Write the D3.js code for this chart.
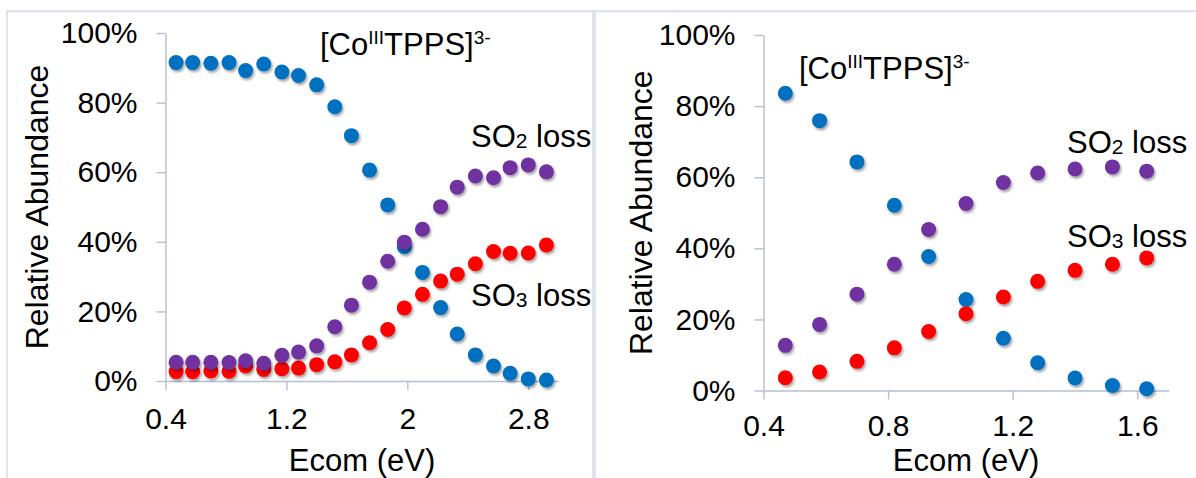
<!DOCTYPE html>
<html>
<head>
<meta charset="utf-8">
<script src="https://cdn.jsdelivr.net/npm/d3@7"></script>
<style>
  html, body { margin: 0; padding: 0; background: #fff; }
  svg { display: block; }
  text { font-family: "Liberation Sans", Arial, sans-serif; fill: #000; }
</style>
</head>
<body>
<svg id="chart" width="1196" height="478"></svg>
<script>
// Collision energies (eV, centre-of-mass frame)
const energy = [0.47, 0.58, 0.70, 0.82, 0.93, 1.05, 1.17, 1.28, 1.40, 1.52, 1.63,
                1.75, 1.87, 1.98, 2.10, 2.22, 2.33, 2.45, 2.57, 2.68, 2.80, 2.92];

// Left panel: relative abundance (%) of precursor and fragments
const precursorLeft = [91.5, 91.5, 91.3, 91.5, 89.2, 91.1, 88.8, 87.8, 85.1, 78.8, 70.5,
                       60.6, 50.6, 38.6, 31.2, 21.1, 13.5, 7.5, 4.3, 2.2, 0.6, 0.3];
const so2Left = [5.4, 5.4, 5.4, 5.3, 5.8, 5.1, 7.4, 8.3, 10.1, 15.6, 21.8,
                 28.4, 34.4, 39.9, 43.6, 50.1, 55.7, 58.9, 58.4, 61.3, 62.1, 60.1];
const so3Left = [2.7, 2.7, 2.9, 2.8, 4.3, 3.3, 3.5, 3.7, 4.7, 5.5, 7.5,
                 11.0, 14.8, 21.0, 24.9, 28.7, 30.7, 33.7, 37.2, 36.7, 36.8, 39.1];

// Right panel: relative abundance (%), first eleven energies
const energyRight = energy.slice(0, 11);
const precursorRight = [83.6, 75.9, 64.3, 52.1, 37.7, 25.6, 14.7, 7.8, 3.5, 1.4, 0.5];
const so2Right = [12.7, 18.6, 27.1, 35.5, 45.3, 52.6, 58.5, 61.2, 62.3, 62.9, 61.7];
const so3Right = [3.6, 5.2, 8.2, 12.0, 16.6, 21.6, 26.3, 30.7, 33.8, 35.5, 37.3];

// Axis ticks
const yTicks = [0, 20, 40, 60, 80, 100];
const xTicksLeft = [0.4, 1.2, 2.0, 2.8];
const xTicksRight = [0.4, 0.8, 1.2, 1.6];

const COLORS = { precursor: "#0070c0", so2: "#7030a0", so3: "#ff0000" };
const AXIS_COLOR = "#b4bfd4";
const FRAME_COLOR = "#dfe4ec";

const svg = d3.select("#chart");
svg.append("rect").attr("width", 1196).attr("height", 478).attr("fill", "#fff");

const defs = svg.append("defs");
defs.append("filter").attr("id", "shadow")
  .attr("x", "-50%").attr("y", "-50%").attr("width", "200%").attr("height", "200%")
  .append("feDropShadow")
  .attr("dx", 1.5).attr("dy", 2.2).attr("stdDeviation", 1.3)
  .attr("flood-color", "#000").attr("flood-opacity", 0.35);

// Panel frame lines
svg.append("rect").attr("x", 6).attr("y", 10).attr("width", 1190).attr("height", 2.5).attr("fill", FRAME_COLOR);
svg.append("rect").attr("x", 6).attr("y", 10).attr("width", 2).attr("height", 468).attr("fill", FRAME_COLOR);
svg.append("rect").attr("x", 592).attr("y", 10).attr("width", 4).attr("height", 468).attr("fill", FRAME_COLOR);

function drawPanel(cfg) {
  const x = d3.scaleLinear().domain(cfg.xDomain).range(cfg.xRange);
  const y = d3.scaleLinear().domain([0, 100]).range(cfg.yRange);
  const g = svg.append("g");

  const yAxis = d3.axisLeft(y).tickValues(yTicks).tickFormat(d => d + "%")
    .tickSize(9).tickSizeOuter(0).tickPadding(19);
  const gy = g.append("g").attr("transform", `translate(${cfg.xRange[0]},0)`).call(yAxis);

  const xAxis = d3.axisBottom(x).tickValues(cfg.xTicks).tickFormat(d3.format("~g"))
    .tickSize(9).tickSizeOuter(0).tickPadding(cfg.xPad);
  const gx = g.append("g").attr("transform", `translate(0,${cfg.yRange[0]})`).call(xAxis);

  [gx, gy].forEach(a => {
    a.select(".domain").attr("stroke", AXIS_COLOR).attr("stroke-width", 1.4);
    a.selectAll(".tick line").attr("stroke", AXIS_COLOR).attr("stroke-width", 1.4);
    a.selectAll(".tick text").attr("font-size", 30)
      .attr("font-family", '"Liberation Sans", Arial, sans-serif').attr("fill", "#000");
  });

  // Axis titles
  g.append("text")
    .attr("x", (cfg.xRange[0] + cfg.xRange[1]) / 2).attr("y", cfg.xTitleY)
    .attr("text-anchor", "middle").attr("font-size", 31).text("Ecom (eV)");
  g.append("text")
    .attr("transform", `translate(${cfg.yTitleX},${(cfg.yRange[0] + cfg.yRange[1]) / 2}) rotate(-90)`)
    .attr("text-anchor", "middle").attr("font-size", 32).text("Relative Abundance");

  // Series drawn precursor, SO3 loss, SO2 loss (last on top)
  const series = [
    { vals: cfg.precursor, color: COLORS.precursor },
    { vals: cfg.so3, color: COLORS.so3 },
    { vals: cfg.so2, color: COLORS.so2 }
  ];
  series.forEach(s => {
    g.append("g").attr("filter", "url(#shadow)")
      .selectAll("circle")
      .data(s.vals.map((v, i) => [cfg.energy[i], v]))
      .join("circle")
      .attr("cx", d => x(d[0])).attr("cy", d => y(d[1]))
      .attr("r", 7.5).attr("fill", s.color);
  });

  // Series annotations
  const ion = g.append("text").attr("x", cfg.ionLabel[0]).attr("y", cfg.ionLabel[1]).attr("font-size", 31);
  ion.append("tspan").text("[Co");
  ion.append("tspan").attr("font-size", 19).attr("dy", -11).text("III");
  ion.append("tspan").attr("dy", 11).text("TPPS]");
  ion.append("tspan").attr("font-size", 19).attr("dy", -11).text("3-");

  [[cfg.so2Label, "2"], [cfg.so3Label, "3"]].forEach(([pos, n]) => {
    const t = g.append("text").attr("x", pos[0]).attr("y", pos[1]).attr("font-size", 31);
    t.append("tspan").text("SO");
    t.append("tspan").attr("font-size", 21).attr("dy", 1).text(n);
    t.append("tspan").attr("dy", -1).text(" loss");
  });
}

drawPanel({
  energy: energy,
  precursor: precursorLeft, so2: so2Left, so3: so3Left,
  xDomain: [0.4, 3.0], xRange: [165.5, 558.5], yRange: [381, 33],
  xTicks: xTicksLeft, xPad: 18,
  xTitleY: 471, yTitleX: 48,
  ionLabel: [320, 55], so2Label: [471, 147], so3Label: [471, 306]
});

drawPanel({
  energy: energyRight,
  precursor: precursorRight, so2: so2Right, so3: so3Right,
  xDomain: [0.4, 1.7], xRange: [763.5, 1168.5], yRange: [390.5, 35],
  xTicks: xTicksRight, xPad: 15,
  xTitleY: 471, yTitleX: 652,
  ionLabel: [799, 79], so2Label: [1067, 153], so3Label: [1067, 247]
});
</script>
</body>
</html>
